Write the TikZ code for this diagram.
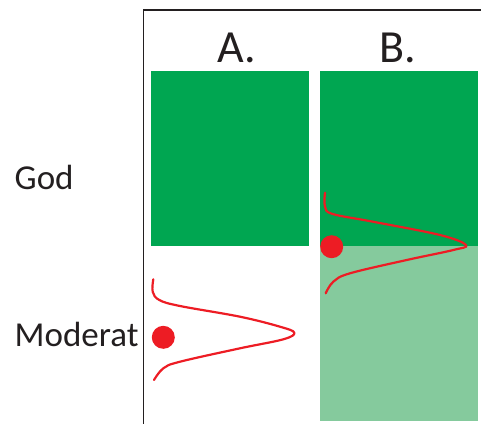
\documentclass[tikz,border=0pt]{standalone}
\usepackage{fontspec}
\setmainfont{Carlito}
\definecolor{dgreen}{HTML}{00A651}
\definecolor{lgreen}{HTML}{85CA9D}
\definecolor{cred}{HTML}{ED1C24}
\definecolor{ctext}{HTML}{231F20}
\begin{document}
\begin{tikzpicture}[x=1pt,y=-1pt,
  box/.style={inner sep=0pt,outer sep=0pt},
  lbl/.style={anchor=base,text=ctext,inner sep=0pt,font=\fontsize{35}{35}\selectfont},
  head/.style={anchor=base,text=ctext,inner sep=0pt,font=\fontsize{46}{46}\selectfont},
  curve/.style={cred,line width=2.2pt,line cap=round,line join=round},
  dot/.style={circle,fill=cred,minimum size=23pt,inner sep=0pt}]
\useasboundingbox (0,0) rectangle (481,424);
% frame
\draw[ctext,line width=1.5pt] (481,10) -- (143.5,10) -- (143.5,424);
% boxes
\fill[dgreen] (151,71) rectangle (309,246);
\fill[lgreen] (320,246) rectangle (478,421);
\fill[dgreen] (320,71) rectangle (478,246);
\coordinate (boxA) at (230,158);
\coordinate (boxB) at (399,158);
% headings
\node[head] (ha) at (237,62) {A.};
\node[head] (hb) at (398,62) {B.};
% row labels
\node[lbl,anchor=base west] (god) at (14.5,189) {God};
\node[lbl,anchor=base west] (mod) at (14.5,346.5) {Moderat};
% curve A
\draw[curve] plot[smooth,tension=0.6] coordinates {(153.3,279.3) (152.7,291.7) (159.3,300) (180,306) (240,316.7) (280,326.7) (294.3,332.7) (283.3,339.3) (240,348.3) (180,361.7) (163.3,368.3) (154,380)};
\node[dot] (dotA) at (163.3,337.3) {};
% curve B
\draw[curve] plot[smooth,tension=0.6] coordinates {(325,192.7) (325,206.7) (332.7,214) (373,221.7) (440,235) (466,245) (453.3,250) (406.7,260) (350,273.3) (333.3,281.7) (325.7,293.3)};
\node[dot] (dotB) at (331.7,246.7) {};
\end{tikzpicture}
\end{document}
